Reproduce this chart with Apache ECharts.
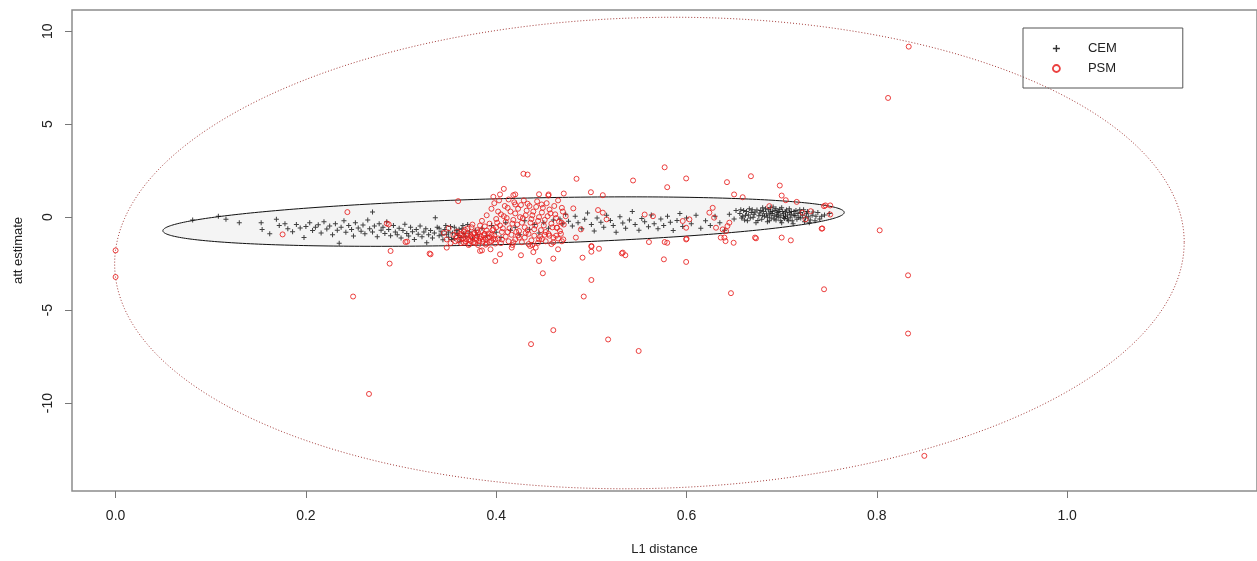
<!DOCTYPE html>
<html>
<head>
<meta charset="utf-8">
<title>att estimate vs L1 distance</title>
<script src="https://cdn.jsdelivr.net/npm/echarts@6/dist/echarts.min.js"></script>
<style>
  html, body { margin: 0; padding: 0; background: #fff; }
  #chart { width: 1257px; height: 561px; }
</style>
</head>
<body>
<div id="chart"></div>
<script>
// axis ticks
var xTicks = [0, 0.2, 0.4, 0.6, 0.8, 1.0];
var yTicks = [-10, -5, 0, 5, 10];

// ellipses: [centre x, centre y, half width, half height, cos(phase)]
var outerEllipse = [[0.561, -1.93, 0.562, 12.68, 0.046]];
var innerEllipse = [[0.4077, -0.24, 0.358, 1.33, 0.37]];

// CEM estimates (black +)
var cemPoints = [
  [0.081,-0.16],[0.108,0.05],[0.116,-0.12],[0.130,-0.30],[0.153,-0.30],[0.154,-0.66],[0.162,-0.89],[0.169,-0.12],
  [0.172,-0.45],[0.178,-0.36],[0.181,-0.62],[0.186,-0.78],[0.19,-0.40],[0.194,-0.58],[0.198,-1.09],[0.2,-0.50],
  [0.204,-0.30],[0.207,-0.72],[0.21,-0.55],[0.213,-0.41],[0.216,-0.86],[0.219,-0.25],[0.222,-0.64],[0.225,-0.48],
  [0.228,-0.95],[0.231,-0.35],[0.233,-0.70],[0.235,-1.41],[0.237,-0.55],[0.24,-0.20],[0.242,-0.82],[0.245,-0.45],
  [0.248,-0.66],[0.25,-1.02],[0.252,-0.30],[0.255,-0.58],[0.258,-0.76],[0.26,-0.42],[0.262,-0.90],[0.265,-0.15],
  [0.267,-0.62],[0.27,0.27],[0.27,-0.80],[0.272,-0.48],[0.275,-1.05],[0.277,-0.35],[0.279,-0.70],[0.281,-0.55],
  [0.283,-0.88],[0.285,-0.25],[0.287,-0.66],[0.289,-1.0],
  [0.292,-0.45],[0.294,-0.80],[0.296,-0.95],[0.298,-0.60],[0.3,-1.12],[0.302,-0.72],[0.304,-0.38],[0.306,-0.88],
  [0.308,-1.02],[0.31,-0.55],[0.312,-0.78],[0.314,-1.20],[0.316,-0.66],[0.318,-0.92],[0.32,-0.48],[0.322,-1.05],
  [0.324,-0.80],[0.326,-0.62],[0.327,-1.38],[0.329,-0.95],[0.331,-0.72],[0.333,-1.12],[0.335,-0.85],[0.336,-0.03],
  [0.338,-0.55],[0.34,-1.0],[0.342,-0.78],[0.344,-1.22],[0.346,-0.66],[0.348,-0.92],[0.35,-1.08],[0.352,-0.50],
  [0.354,-0.85],[0.356,-1.15],[0.358,-0.72],[0.36,-0.98],[0.362,-1.30],[0.364,-0.62],[0.366,-0.88],[0.368,-1.05],
  [0.37,-0.40],[0.372,-0.80],[0.375,-1.18],[0.378,-0.70],[0.38,-0.95],
  [0.34,-0.6],[0.343,-0.95],[0.347,-0.45],[0.35,-0.8],[0.353,-1.2],[0.356,-0.55],[0.359,-0.88],[0.361,-0.65],
  [0.363,-1.1],[0.365,-0.45],
  [0.385,-0.60],[0.39,-1.0],[0.395,-0.45],[0.40,-0.82],[0.405,-1.10],[0.41,-0.30],[0.415,-0.70],[0.42,-0.55],
  [0.425,-0.95],[0.43,-0.20],[0.435,-0.65],[0.44,-0.40],[0.445,-0.85],[0.45,-0.30],[0.455,-0.60],[0.46,-0.15],
  [0.467,-0.10],[0.47,-0.35],[0.473,0.15],[0.476,-0.22],[0.48,-0.48],[0.483,0.05],[0.486,-0.30],[0.49,-0.62],
  [0.493,-0.12],[0.496,0.22],[0.5,-0.40],[0.503,-0.75],[0.506,-0.05],[0.51,-0.28],[0.513,-0.55],[0.516,0.10],
  [0.52,-0.18],[0.523,-0.45],[0.526,-0.82],[0.53,0.02],[0.533,-0.32],[0.536,-0.60],[0.54,-0.15],[0.543,0.30],
  [0.546,-0.40],[0.55,-0.70],[0.553,-0.08],[0.556,-0.25],[0.56,-0.52],[0.563,0.12],[0.566,-0.35],[0.57,-0.62],
  [0.573,-0.10],[0.576,-0.45],[0.58,0.05],[0.583,-0.28],[0.586,-0.72],[0.59,-0.18],[0.593,0.20],[0.596,-0.50],
  [0.6,-0.05],[0.605,-0.35],[0.61,0.10],[0.615,-0.60],[0.62,-0.20],[0.625,-0.45],[0.63,0.05],[0.635,-0.30],
  [0.64,-0.70],[0.645,0.15],[0.65,-0.10],[0.652,0.35],
  [0.656,0.20],[0.658,-0.05],[0.66,0.35],[0.662,0.10],[0.664,-0.20],[0.666,0.45],[0.668,0.25],[0.67,0.00],
  [0.671,0.15],[0.673,-0.30],[0.674,0.38],[0.676,0.08],[0.677,0.22],[0.679,-0.12],[0.68,0.50],[0.681,0.30],
  [0.682,0.05],[0.684,0.18],[0.685,-0.25],[0.686,0.40],[0.687,0.12],[0.688,0.28],[0.689,-0.05],[0.69,0.20],
  [0.691,0.55],[0.692,0.08],[0.693,0.35],[0.694,-0.15],[0.695,0.15],[0.696,0.25],[0.697,0.00],[0.698,0.42],
  [0.699,0.10],[0.7,-0.30],[0.701,0.30],[0.702,0.18],[0.703,-0.08],[0.704,0.05],[0.705,0.38],[0.706,0.12],
  [0.707,-0.20],[0.708,0.25],[0.709,0.00],[0.71,0.15],[0.712,-0.35],[0.713,0.30],[0.714,0.08],[0.716,-0.12],
  [0.717,0.20],[0.719,0.40],[0.72,-0.05],[0.722,0.10],[0.724,-0.25],[0.726,0.18],[0.728,0.02],[0.73,-0.15],
  [0.733,0.28],[0.736,0.05],[0.74,-0.10],[0.745,0.12],[0.75,0.20],
  [0.657,0.40],[0.659,0.05],[0.661,-0.15],[0.663,0.30],[0.665,0.12],[0.667,-0.05],[0.669,0.40],[0.672,0.28],
  [0.675,-0.18],[0.678,0.35],[0.68,0.10],[0.683,0.45],[0.685,0.00],[0.687,-0.20],[0.688,0.50],[0.69,0.30],
  [0.692,-0.10],[0.694,0.45],[0.695,0.05],[0.697,0.30],[0.699,-0.20],[0.7,0.50],[0.702,0.00],[0.704,0.28],
  [0.706,-0.10],[0.708,0.45],[0.71,0.30],[0.711,-0.20],[0.713,0.10],[0.715,0.35],[0.718,0.00],[0.72,0.25],
  [0.723,0.40],[0.725,-0.05],[0.727,0.30],[0.729,-0.30],[0.732,0.10],[0.735,-0.20],[0.738,0.25],[0.742,0.05]
];

// PSM estimates (red o)
var psmPoints = [
  [0.358,-1.05],[0.36,-1.25],[0.362,-0.90],[0.363,-1.40],[0.365,-1.15],[0.366,-0.80],[0.368,-1.30],[0.369,-1.00],
  [0.371,-1.20],[0.372,-1.45],[0.373,-0.95],[0.375,-1.10],[0.376,-1.35],[0.377,-0.85],[0.379,-1.22],[0.38,-1.02],
  [0.381,-1.50],[0.383,-1.15],[0.384,-0.75],[0.386,-1.32],[0.387,-0.98],[0.389,-1.18],[0.39,-1.42],[0.392,-0.88],
  [0.393,-1.08],[0.395,-1.28],[0.396,-0.70],[0.398,-1.00],[0.399,-1.20],[0.4,-0.55],
  [0.362,-1.1],[0.364,-0.95],[0.366,-1.38],[0.368,-1.18],[0.37,-0.88],[0.371,-1.5],[0.373,-1.28],[0.374,-1.05],
  [0.376,-0.92],[0.378,-1.4],[0.379,-1.12],[0.381,-0.82],[0.382,-1.3],[0.384,-1.05],[0.386,-1.2],[0.388,-0.9],
  [0.389,-1.48],[0.391,-1.1],[0.393,-1.35],[0.395,-0.95],[0.397,-1.15],[0.399,-1.42],[0.367,-0.68],[0.374,-0.55],
  [0.383,-0.45],[0.39,-0.72],[0.357,-1.3],[0.359,-0.78],
  [0.37,-0.60],[0.375,-0.40],[0.38,-0.70],[0.385,-0.20],[0.388,-0.50],[0.39,0.10],[0.393,-0.35],[0.397,-0.65],
  [0.4,-0.10],[0.402,0.30],[0.404,-0.45],[0.406,-0.80],[0.408,0.05],[0.41,-0.25],[0.412,0.50],[0.414,-0.60],
  [0.416,-0.95],[0.418,-0.15],[0.42,0.20],[0.422,-0.40],[0.424,-0.75],[0.426,0.65],[0.428,-0.05],[0.43,-0.55],
  [0.432,0.35],[0.434,-0.90],[0.436,-0.30],[0.438,0.10],[0.44,-0.65],[0.442,0.55],[0.444,-0.20],[0.446,-1.05],
  [0.448,0.25],[0.45,-0.45],[0.452,-0.80],[0.454,0.05],[0.456,0.41],[0.458,-0.35],[0.46,-1.10],[0.462,0.15],
  [0.464,-0.57],[0.466,-0.25],[0.468,-0.90],[0.47,0.30],[0.4705,-1.2],
  [0.395,0.45],[0.398,0.75],[0.401,-0.3],[0.403,0.9],[0.405,0.15],[0.407,-0.6],[0.409,0.6],[0.411,-0.05],
  [0.413,0.95],[0.415,0.3],[0.417,-0.35],[0.419,0.8],[0.421,-0.8],[0.423,0.45],[0.425,0.0],[0.427,-0.3],
  [0.429,0.9],[0.431,0.1],[0.433,-0.7],[0.435,0.6],[0.437,-0.1],[0.439,0.3],[0.441,-0.45],[0.443,0.85],
  [0.445,0.0],[0.447,-0.7],[0.449,0.5],[0.451,-0.15],[0.453,0.75],[0.455,-0.9],[0.457,0.2],[0.459,-0.55],
  [0.461,0.6],[0.463,-0.05],[0.465,0.9],[0.467,-0.75],[0.469,0.5],[0.471,-0.4],[0.473,0.05],
  [0.406,-1.2],[0.412,-0.8],[0.418,-1.35],[0.424,-1.1],[0.431,-0.85],[0.438,-1.5],[0.445,-1.2],[0.451,-0.95],
  [0.458,-1.45],[0.463,-1.0],[0.469,-1.3],
  [0.402,-1.15],[0.405,-1.40],[0.41,-1.05],[0.413,-1.30],[0.417,-1.50],[0.42,-1.20],[0.423,-0.98],[0.427,-1.35],
  [0.43,-1.10],[0.434,-1.45],[0.437,-1.25],[0.44,-1.00],[0.444,-1.38],[0.448,-1.18],[0.452,-1.30],[0.456,-1.00],
  [0.46,-1.36],[0.465,-1.15],
  [0.345,-0.85],[0.348,-1.20],[0.35,-0.60],[0.352,-1.40],[0.355,-0.95],[0.348,-1.64],
  [0.0,-1.79],[0.0,-3.22],[0.2496,-4.27],[0.2663,-9.51],[0.2436,0.27],[0.1755,-0.93],[0.289,-1.82],[0.288,-2.5],
  [0.3047,-1.34],[0.285,-0.34],[0.8335,9.17],[0.8118,6.41],[0.803,-0.71],[0.8328,-3.13],[0.8328,-6.26],[0.8499,-12.84],
  [0.500,-3.38],[0.492,-4.27],[0.460,-6.08],[0.4366,-6.83],[0.5176,-6.58],[0.5497,-7.2],[0.6467,-4.09],[0.7445,-3.88],
  [0.331,-2.0],[0.399,-2.36],[0.383,-1.82],[0.404,-2.0],[0.426,-2.05],[0.439,-1.88],[0.445,-2.36],[0.449,-3.02],
  [0.46,-2.23],[0.465,-1.73],[0.4907,-2.18],[0.5,-1.55],[0.5,-1.86],[0.508,-1.7],[0.533,-1.91],[0.5357,-2.05],
  [0.5762,-2.27],[0.5996,-2.41],[0.577,-1.34],[0.5605,-1.34],[0.6,-1.16],[0.672,-1.1],[0.7,-1.1],[0.7096,-1.25],
  [0.7427,-0.61],[0.6495,-1.38],[0.636,-1.1],[0.641,-1.29],
  [0.4286,2.33],[0.433,2.29],[0.4844,2.06],[0.5438,1.97],[0.577,2.68],[0.5797,1.61],[0.5996,2.08],[0.6425,1.88],
  [0.6677,2.2],[0.698,1.7],[0.700,1.16],[0.7043,0.91],[0.7158,0.82],[0.650,1.22],[0.659,1.07],[0.4995,1.34],
  [0.512,1.18],[0.471,1.27],[0.445,1.23],[0.4548,1.16],[0.42,1.22],[0.408,1.52],[0.404,1.22],[0.397,1.09],
  [0.36,0.86],[0.746,0.63],[0.751,0.14],[0.751,0.63],[0.418,1.18],[0.42,0.68],[0.433,0.72],[0.4477,0.68],[0.455,1.22],
  [0.481,0.47],[0.507,0.38],[0.512,0.24],[0.516,-0.12],[0.489,-0.66],[0.4837,-1.1],[0.5001,-1.59],[0.556,0.14],
  [0.5647,0.05],[0.5797,-1.38],[0.5996,-1.2],[0.596,-0.21],[0.603,-0.12],[0.5996,-0.57],[0.624,0.24],[0.6275,0.5],
  [0.629,-0.03],[0.631,-0.57],[0.638,-0.66],[0.643,-0.48],[0.6415,-0.75],[0.645,-0.3],[0.6398,-1.1],[0.687,0.59],
  [0.7218,0.24],[0.7305,0.32],[0.725,-0.12],[0.7445,0.59],[0.742,-0.62],[0.673,-1.14],[0.4635,-0.57],[0.4687,-0.3],
  [0.532,-1.95],[0.33,-1.96],[0.385,-1.79],[0.394,-1.73],[0.4163,-1.64],[0.4356,-1.55],[0.4415,-1.64],
  [0.3064,-1.32],[0.287,-0.39]
];

var plusPath = 'path://M4,0H6V4H10V6H6V10H4V6H0V4H4Z';
var font = '"Liberation Sans", Arial, sans-serif';

function ellipseRenderer(style) {
  return function (params, api) {
    var cx = api.value(0), cy = api.value(1), rx = api.value(2), ry = api.value(3);
    var phi = Math.acos(api.value(4));
    var pts = [];
    for (var i = 0; i < 360; i++) {
      var t = i / 360 * Math.PI * 2;
      pts.push(api.coord([cx + rx * Math.cos(t), cy + ry * Math.cos(t - phi)]));
    }
    return { type: 'polygon', shape: { points: pts }, style: style };
  };
}

var myChart = echarts.init(document.getElementById('chart'), null, { renderer: 'canvas' });

var option = {
  animation: false,
  backgroundColor: '#fff',
  textStyle: { fontFamily: font },
  grid: {
    left: 72, top: 10, right: -3, bottom: 69,
    show: true, borderColor: '#8c8c8c', borderWidth: 1.5, backgroundColor: 'transparent'
  },
  legend: {
    orient: 'vertical',
    left: 1023, top: 28,
    padding: [14, 66, 13, 29],
    itemWidth: 7, itemHeight: 7, itemGap: 7,
    borderColor: '#555', borderWidth: 1,
    selectedMode: false,
    textStyle: { fontSize: 13, color: '#222', fontFamily: font, padding: [0, 0, 0, 23] },
    data: [
      { name: 'CEM', icon: plusPath, itemStyle: { color: '#000' } },
      { name: 'PSM', icon: 'circle', itemStyle: { color: 'transparent', borderColor: '#e8201e', borderWidth: 1.8 } }
    ]
  },
  xAxis: {
    type: 'value',
    min: -0.0458, max: 1.1995,
    name: 'L1 distance', nameLocation: 'middle', nameGap: 52,
    nameTextStyle: { fontSize: 13, color: '#222' },
    axisLine: { show: false, onZero: false },
    splitLine: { show: false },
    axisTick: { show: true, length: 7, customValues: xTicks, lineStyle: { color: '#777' } },
    axisLabel: {
      customValues: xTicks, margin: 18, fontSize: 14, color: '#222',
      formatter: function (v) { return v.toFixed(1); }
    }
  },
  yAxis: {
    type: 'value',
    min: -14.73, max: 11.14,
    name: 'att estimate', nameLocation: 'middle', nameGap: 47, nameRotate: 90,
    nameTextStyle: { fontSize: 13, color: '#222' },
    axisLine: { show: false, onZero: false },
    splitLine: { show: false },
    axisTick: { show: true, length: 7, customValues: yTicks, lineStyle: { color: '#777' } },
    axisLabel: {
      customValues: yTicks, margin: 17, fontSize: 14, color: '#222', rotate: 90,
      formatter: function (v) { return String(v); }
    }
  },
  series: [
    {
      type: 'custom', name: 'outer', silent: true, clip: true, z: 1,
      renderItem: ellipseRenderer({ fill: 'none', stroke: '#a33a38', lineWidth: 1, lineDash: [1, 2] }),
      data: outerEllipse
    },
    {
      type: 'custom', name: 'inner', silent: true, clip: true, z: 1,
      renderItem: ellipseRenderer({ fill: '#f4f4f4', stroke: '#111', lineWidth: 1 }),
      data: innerEllipse
    },
    {
      type: 'scatter', name: 'CEM', z: 3,
      symbol: plusPath, symbolSize: 5,
      itemStyle: { color: '#111' },
      data: cemPoints
    },
    {
      type: 'scatter', name: 'PSM', z: 4,
      symbol: 'circle', symbolSize: 5,
      itemStyle: { color: 'transparent', borderColor: '#e8201e', borderWidth: 1, opacity: 0.85 },
      data: psmPoints
    }
  ]
};

myChart.setOption(option);
window.addEventListener('resize', function () {
  myChart.resize();
});
</script>
</body>
</html>
